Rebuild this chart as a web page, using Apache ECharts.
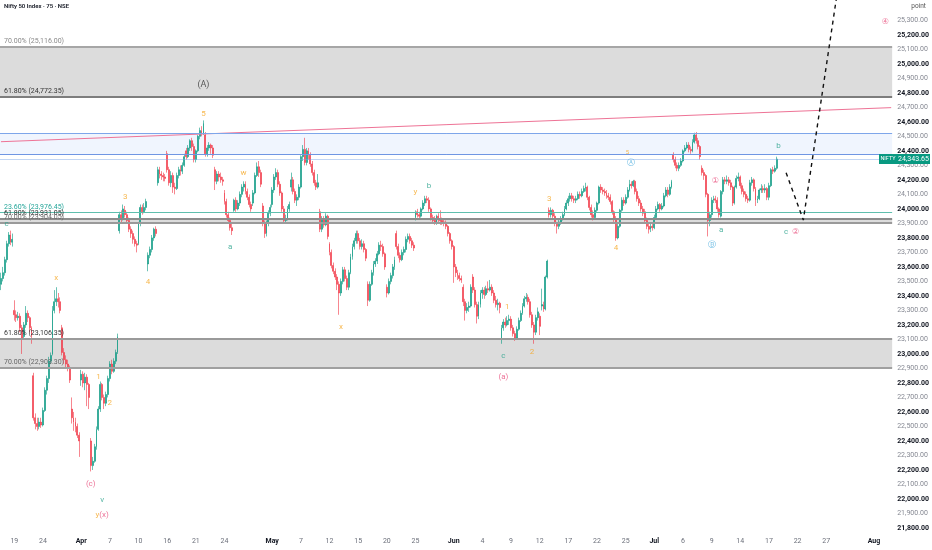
<!DOCTYPE html>
<html><head><meta charset="utf-8">
<script src="https://cdn.jsdelivr.net/npm/echarts@6/dist/echarts.min.js"></script>
<style>html,body{margin:0;padding:0;background:#fff}#c{width:932px;height:550px}</style>
</head><body><div id="c"></div>
<script>
// ---------- DATA ----------
const tradingDays = ['2026-03-17','2026-03-18','2026-03-19','2026-03-20','2026-03-23','2026-03-24','2026-03-25','2026-03-27','2026-03-30',
'2026-04-01','2026-04-02','2026-04-06','2026-04-07','2026-04-08','2026-04-09','2026-04-10','2026-04-13','2026-04-15','2026-04-16','2026-04-17','2026-04-20','2026-04-21','2026-04-22','2026-04-23','2026-04-24','2026-04-27','2026-04-28','2026-04-29','2026-04-30',
'2026-05-04','2026-05-05','2026-05-06','2026-05-07','2026-05-08','2026-05-11','2026-05-12','2026-05-13','2026-05-14','2026-05-15','2026-05-18','2026-05-19','2026-05-20','2026-05-21','2026-05-22','2026-05-25','2026-05-26','2026-05-27','2026-05-29',
'2026-06-01','2026-06-02','2026-06-03','2026-06-04','2026-06-05','2026-06-08','2026-06-09','2026-06-10','2026-06-11','2026-06-12','2026-06-15','2026-06-16','2026-06-17','2026-06-18','2026-06-19','2026-06-22','2026-06-23','2026-06-24','2026-06-25','2026-06-26','2026-06-30',
'2026-07-01','2026-07-02','2026-07-03','2026-07-06','2026-07-07','2026-07-08','2026-07-09','2026-07-10','2026-07-13','2026-07-14','2026-07-15','2026-07-16','2026-07-17','2026-07-20','2026-07-21','2026-07-22','2026-07-23','2026-07-24','2026-07-27','2026-07-28','2026-07-29','2026-07-30','2026-07-31',
'2026-08-03','2026-08-04'];
const sessionTimes = ['09:15','10:30','11:45','13:00','14:15'];
const firstDaySessions = ['13:00','14:15'];
const tickLabels = {'03-19':'19','03-24':'24','04-01':'Apr','04-07':'7','04-10':'10','04-16':'16','04-21':'21','04-24':'24',
'05-04':'May','05-07':'7','05-12':'12','05-15':'15','05-20':'20','05-25':'25','06-01':'Jun','06-04':'4','06-09':'9','06-12':'12',
'06-17':'17','06-22':'22','06-25':'25','07-01':'Jul','07-06':'6','07-09':'9','07-14':'14','07-17':'17','07-22':'22','07-27':'27','08-03':'Aug'};
const monthLabels = ['Apr','May','Jun','Jul','Aug'];

// [open, close, low, high] per 75-minute bar
const ohlc = [
[23480,23520,23440,23560],[23520,23560,23500,23600],
[23560,23650,23540,23670],[23650,23760,23630,23780],[23760,23820,23740,23840],[23820,23770,23750,23850],[23770,23790,23740,23830],
[23300,23270,23230,23370],[23270,23250,23220,23300],[23250,23260,23230,23290],[23260,23180,23150,23280],[23180,23110,23000,23200],
[23120,23200,23100,23220],[23200,23280,23180,23330],[23280,23250,23220,23300],[23250,23180,23150,23260],[23180,23120,23070,23190],
[22850,22560,22540,22870],[22560,22520,22480,22590],[22520,22500,22470,22560],[22500,22530,22480,22560],[22530,22510,22490,22560],
[22510,22610,22500,22630],[22610,22750,22600,22770],[22750,22830,22720,22850],[22830,22950,22800,22980],[22950,22990,22930,23010],
[23000,23300,22990,23330],[23300,23360,23280,23440],[23360,23380,23330,23460],[23380,23360,23320,23420],[23360,23300,23280,23390],
[23180,23010,22990,23200],[23010,22960,22930,23040],[22960,22930,22900,22990],[22930,22900,22880,22960],[22900,22820,22800,22920],
[22620,22560,22520,22700],[22560,22530,22470,22600],[22530,22500,22460,22560],[22500,22440,22420,22520],[22440,22400,22290,22460],
[22820,22860,22780,22890],[22860,22800,22770,22880],[22800,22840,22750,22870],[22840,22790,22640,22860],[22790,22700,22620,22800],
[22400,22230,22190,22420],[22230,22260,22200,22290],[22260,22360,22250,22380],[22360,22480,22340,22500],[22480,22620,22470,22640],
[22620,22790,22600,22810],[22790,22700,22680,22800],[22700,22660,22620,22720],[22660,22720,22640,22740],[22720,22830,22700,22850],
[22830,22930,22810,22950],[22930,22880,22860,22960],[22880,22950,22870,22970],[22950,23010,22930,23030],[23010,23120,23000,23140],
[23850,23960,23830,23980],[23960,23930,23900,23990],[23930,24000,23920,24030],[23990,23960,23940,24020],[23960,23920,23900,23980],
[23920,23860,23840,23940],[23860,23830,23800,23880],[23830,23790,23760,23850],[23790,23760,23740,23810],[23760,23750,23700,23780],
[23760,23900,23750,23910],[23900,24010,23880,24030],[24010,23980,23960,24030],[23980,24010,23970,24040],[24010,24050,23990,24070],
[23620,23680,23570,23700],[23680,23720,23660,23740],[23720,23800,23700,23820],[23800,23860,23780,23870],[23860,23830,23810,23880],
[24180,24270,24160,24290],[24270,24240,24210,24290],[24240,24230,24200,24260],[24230,24220,24190,24250],[24220,24210,24190,24240],
[24380,24270,24250,24400],[24270,24180,24160,24290],[24180,24230,24150,24260],[24230,24150,24110,24250],[24150,24140,24100,24180],
[24140,24230,24130,24250],[24230,24270,24210,24290],[24270,24260,24230,24300],[24260,24300,24240,24320],[24300,24360,24290,24380],
[24400,24360,24340,24420],[24360,24420,24350,24440],[24420,24470,24400,24480],[24470,24430,24400,24490],[24430,24340,24320,24450],
[24340,24400,24320,24410],[24400,24500,24390,24510],[24500,24540,24480,24560],[24540,24520,24500,24570],[24520,24590,24510,24610],
[24510,24380,24360,24530],[24380,24420,24360,24440],[24420,24440,24400,24460],[24440,24420,24380,24450],[24420,24370,24350,24440],
[24270,24190,24130,24290],[24190,24240,24170,24260],[24240,24220,24190,24260],[24220,24200,24180,24250],[24200,24190,24160,24220],
[24110,24050,24030,24130],[24050,23960,23940,24070],[23960,23920,23900,23980],[23920,23870,23850,23940],[23870,23850,23820,23900],
[23990,24060,23980,24070],[24060,24000,23980,24080],[24000,24040,23990,24060],[24040,24100,24020,24120],[24100,24150,24080,24170],
[24150,24170,24120,24190],[24170,24120,24100,24190],[24120,24080,24060,24140],[24080,24030,24010,24100],[24030,24000,23980,24050],
[24040,24110,24020,24130],[24110,24230,24100,24250],[24230,24290,24220,24320],[24290,24250,24220,24330],[24250,24170,24150,24270],
[24020,23900,23880,24040],[23900,23830,23800,23920],[23830,23900,23810,23920],[23900,23970,23880,23990],[23970,24010,23950,24030],
[24030,24130,24010,24150],[24130,24220,24110,24240],[24220,24250,24200,24280],[24250,24170,24150,24270],[24170,24110,24090,24190],
[24110,24000,23980,24120],[24000,23920,23900,24020],[23920,23930,23900,23960],[23930,24000,23920,24020],[24000,24030,23980,24050],
[24150,24200,24120,24250],[24200,24120,24100,24220],[24120,24060,24040,24140],[24060,24080,24020,24100],[24080,24150,24060,24170],
[24150,24360,24140,24370],[24360,24410,24330,24440],[24410,24320,24300,24490],[24320,24400,24300,24420],[24400,24370,24340,24420],
[24370,24310,24290,24390],[24310,24250,24230,24330],[24250,24180,24160,24270],[24180,24150,24130,24200],[24150,24180,24140,24240],
[23980,23860,23840,24000],[23860,23930,23840,23950],[23930,23890,23870,23950],[23890,23950,23880,23970],[23950,23810,23790,23960],
[23760,23700,23680,23770],[23700,23610,23590,23720],[23610,23570,23550,23630],[23570,23530,23510,23590],[23530,23480,23440,23550],
[23480,23420,23270,23500],[23420,23500,23400,23520],[23500,23580,23480,23600],[23580,23520,23500,23600],[23520,23460,23440,23540],
[23460,23560,23440,23580],[23560,23670,23550,23690],[23670,23740,23650,23760],[23740,23780,23720,23800],[23780,23830,23760,23850],
[23830,23780,23760,23850],[23780,23740,23720,23800],[23740,23760,23720,23790],[23760,23720,23700,23780],[23720,23660,23640,23730],
[23480,23370,23330,23500],[23370,23480,23360,23500],[23480,23560,23470,23580],[23560,23620,23540,23640],[23620,23640,23600,23660],
[23640,23690,23620,23710],[23690,23750,23680,23770],[23750,23740,23710,23780],[23740,23690,23670,23760],[23690,23600,23580,23700],
[23460,23420,23390,23480],[23420,23500,23410,23520],[23500,23540,23480,23560],[23540,23600,23520,23620],[23600,23650,23580,23670],
[23830,23740,23720,23850],[23740,23680,23660,23760],[23680,23650,23630,23700],[23650,23700,23640,23720],[23700,23720,23680,23740],
[23720,23790,23700,23810],[23790,23810,23770,23830],[23810,23780,23760,23830],[23780,23750,23730,23800],[23750,23730,23710,23770],
[23940,23980,23920,23990],[23980,23960,23940,24000],[23960,23950,23930,23980],[23950,24000,23940,24010],[24000,24040,23990,24060],
[24040,24070,24020,24090],[24070,24060,24040,24090],[24060,24000,23980,24080],[24000,23940,23920,24010],[23940,23920,23900,23960],
[23920,23910,23890,23950],[23910,23950,23890,23960],[23950,23930,23910,23970],[23930,23920,23890,23990],[23920,23910,23890,23940],
[23910,23900,23880,23930],[23900,23880,23860,23920],[23880,23830,23810,23890],[23830,23780,23760,23840],[23780,23740,23720,23790],
[23740,23600,23490,23750],[23600,23560,23530,23620],[23560,23540,23510,23580],[23540,23520,23500,23560],[23520,23510,23490,23540],
[23460,23360,23330,23480],[23360,23300,23230,23380],[23300,23320,23280,23350],[23320,23330,23290,23360],[23330,23460,23320,23480],
[23530,23440,23420,23550],[23440,23340,23320,23460],[23340,23260,23210,23360],[23260,23340,23240,23360],[23340,23420,23320,23440],
[23420,23440,23380,23460],[23440,23410,23380,23460],[23410,23450,23400,23470],[23450,23440,23420,23500],[23440,23460,23430,23510],
[23460,23420,23400,23480],[23420,23370,23350,23440],[23370,23340,23320,23400],[23340,23350,23300,23380],[23350,23320,23280,23360],
[23110,23180,23070,23200],[23180,23220,23160,23240],[23220,23200,23180,23250],[23200,23230,23190,23260],[23230,23240,23200,23270],
[23240,23180,23160,23260],[23180,23140,23120,23200],[23140,23110,23090,23160],[23110,23170,23100,23190],[23170,23230,23160,23250],
[23230,23280,23220,23300],[23280,23330,23270,23350],[23330,23380,23320,23400],[23380,23390,23360,23420],[23390,23360,23340,23410],
[23360,23270,23250,23380],[23270,23200,23180,23290],[23200,23150,23070,23220],[23150,23250,23130,23270],[23250,23290,23230,23320],
[23260,23190,23130,23280],[23330,23340,23300,23450],[23340,23310,23290,23360],[23310,23530,23300,23540],[23530,23640,23520,23650],
[23990,23960,23940,24010],[23960,23990,23940,24010],[23990,23950,23930,24000],[23950,23900,23880,23970],[23900,23880,23830,23910],
[23880,23910,23860,23930],[23910,23930,23890,23950],[23930,23960,23920,23980],[23960,24000,23950,24020],[24000,24040,23990,24060],
[24040,24070,24020,24090],[24070,24090,24050,24110],[24090,24070,24050,24110],[24070,24060,24040,24090],[24060,24070,24040,24090],
[24070,24100,24060,24120],[24100,24090,24070,24120],[24090,24120,24080,24140],[24120,24140,24110,24160],[24140,24150,24120,24180],
[24150,24080,24060,24160],[24080,24010,23990,24090],[24010,23960,23940,24030],[23960,23940,23920,23990],[23940,23990,23930,24010],
[23990,24040,23980,24050],[24040,24150,24030,24160],[24150,24130,24110,24170],[24130,24120,24100,24150],[24120,24110,24090,24140],
[24110,24090,24070,24130],[24090,24080,24060,24110],[24080,24050,24030,24100],[24050,23980,23960,24060],[23980,23930,23910,23990],
[23930,23800,23780,23950],[23800,23880,23790,23900],[23880,23990,23870,24000],[23990,24060,23980,24080],[24060,24040,24020,24080],
[24040,24080,24030,24100],[24080,24130,24070,24150],[24130,24170,24120,24200],[24170,24160,24140,24190],[24160,24190,24150,24200],
[24190,24120,24100,24200],[24120,24070,24050,24140],[24070,24040,24020,24090],[24040,24000,23980,24060],[24000,23970,23950,24020],
[23980,23920,23900,24000],[23920,23880,23860,23940],[23880,23860,23830,23900],[23860,23880,23840,23900],[23880,23870,23850,23900],
[23870,23940,23860,23960],[23940,24000,23930,24020],[24000,24030,23990,24050],[24030,24000,23980,24040],[24000,24020,23990,24040],
[24020,24090,24010,24110],[24090,24130,24080,24150],[24130,24100,24080,24150],[24100,24150,24090,24170],[24150,24190,24140,24200],
[24370,24340,24320,24390],[24340,24300,24280,24360],[24300,24280,24260,24320],[24280,24300,24260,24320],[24300,24330,24290,24350],
[24330,24400,24320,24410],[24400,24420,24390,24440],[24420,24440,24410,24460],[24440,24410,24390,24460],[24410,24400,24380,24430],
[24400,24460,24390,24480],[24460,24510,24450,24525],[24510,24470,24450,24530],[24470,24430,24410,24490],[24430,24360,24340,24440],
[24280,24250,24230,24300],[24250,24230,24200,24270],[24230,24100,24080,24240],[24100,23920,23810,24110],[23920,23960,23880,23980],
[23960,24060,23940,24080],[24060,24070,24040,24090],[24070,24060,24040,24090],[24060,24000,23980,24080],[24000,23960,23940,24010],
[23950,24120,23940,24130],[24120,24200,24100,24220],[24200,24190,24170,24220],[24190,24200,24170,24230],[24200,24180,24160,24220],
[24180,24150,24130,24200],[24150,24040,24020,24160],[24040,24150,24030,24160],[24150,24210,24140,24230],[24210,24220,24190,24250],
[24220,24160,24140,24230],[24160,24120,24100,24180],[24120,24100,24080,24140],[24100,24070,24050,24120],[24070,24060,24040,24090],
[24060,24180,24050,24200],[24180,24200,24160,24220],[24200,24140,24120,24210],[24140,24060,24020,24150],[24060,24070,24040,24090],
[24070,24130,24060,24140],[24130,24140,24110,24170],[24140,24130,24110,24160],[24130,24140,24110,24170],[24140,24080,24060,24150],
[24080,24160,24060,24180],[24160,24270,24150,24280],[24270,24260,24240,24290],[24260,24280,24250,24300],[24280,24343.65,24270,24360]
];
const lastPrice = 24343.65;

const fibNames = ['70.00% (25,116.00)','61.80% (24,772.35)','23.60% (23,976.45)','61.80% (23,931.05)','70.00% (23,904.05)','61.80% (23,106.35)','70.00% (22,903.30)'];
const fibValues = [25116.00, 24772.35, 23976.45, 23931.05, 23904.05, 23106.35, 22903.30];
const greyZones = [[25116.00, 24772.35],[23931.05, 23904.05],[23106.35, 22903.30]];
const blueZone = [24521, 24378];
const trendIdx = [0, 466];
const trendPrice = [24463, 24698];
const projIdx = [411, 420, 439];
const projPrice = [24249, 23923, 25600];

const waveText  = ['c','x','(c)','v','y(x)','1','2','3','4','5','(A)','a','w','x','y','b','1','c','2','(a)','3','4','5','Ⓐ','①','Ⓑ','a','b','c','②','④'];
const waveIdx   = [3,29,47,53,53,51,57,65,77,106,106,120,127,178,217,224,265,263,278,263,287,322,328,330,374,372,377,407,411,416,463];
const wavePrice = [23896,23523,22103,21993,21890,22841,22662,24082,23496,24654,24854,23737,24247,23186,24116,24158,23324,22986,23013,22841,24068,23730,24392,24316,24192,23751,23854,24434,23841,23841,25288];
const waveGroup = ['teal','orange','pink','teal','mixed','orange','orange','orange','orange','orange','dark','teal','orange','orange','orange','teal','orange','teal','orange','pink','orange','orange','orange','blue','pink','blue','teal','teal','teal','pink','pink'];

// ---------- BUILD ----------
const categories = [];
tradingDays.forEach((d, i) => (i === 0 ? firstDaySessions : sessionTimes).forEach(t => categories.push(d + ' ' + t)));

const FONT = 'Roboto, "DejaVu Sans", "Noto Sans", sans-serif';
const groupColor = {teal:'#2aa38c', orange:'#f5a623', pink:'#e8507e', blue:'#45a9dc', dark:'#333', mixed:'#f5a623'};
const fibColor = ['#8a8a8a','#333','#26a69a','#333','#666','#333','#666'];
const fibLineStyle = [
  {color:'#a6a6a6', width:2}, {color:'#7d7d7d', width:2}, {color:'#5fbfae', width:1},
  {color:'#8c8c8c', width:2}, {color:'#9a9a9a', width:2}, {color:'#9a9a9a', width:2}, {color:'#a0a0a0', width:2}
];

const chart = echarts.init(document.getElementById('c'), null, {renderer:'canvas'});

const fmtNum = v => v.toLocaleString('en-US', {minimumFractionDigits:2, maximumFractionDigits:2});

const markLines = fibValues.map((v, i) => ({
  yAxis: v,
  lineStyle: {color: fibLineStyle[i].color, width: fibLineStyle[i].width, type:'solid'},
  label: {show:true, formatter: fibNames[i], position:'insideStartTop', distance: [4, 2], color: fibColor[i], fontSize: 7, fontFamily: FONT}
}));
markLines.push({yAxis: blueZone[0], lineStyle:{color:'#7ea6ea', width:1, type:'solid'}, label:{show:false}});
markLines.push({yAxis: blueZone[1], lineStyle:{color:'#6f96e3', width:1, type:'solid'}, label:{show:false}});
markLines.push({yAxis: lastPrice, lineStyle:{color:'rgba(120,165,230,0.45)', width:1, type:'solid'}, label:{show:false}});

const markAreas = greyZones.map(z => [{yAxis: z[0], itemStyle:{color:'rgba(120,120,120,0.26)'}}, {yAxis: z[1]}]);
markAreas.push([{yAxis: blueZone[0], itemStyle:{color:'rgba(66,133,244,0.08)'}}, {yAxis: blueZone[1]}]);

const waveData = waveText.map((t, i) => ({
  value: [categories[waveIdx[i]], wavePrice[i]],
  label: {
    formatter: waveGroup[i] === 'mixed' ? '{o|y}{p|(x)}' : t,
    color: groupColor[waveGroup[i]],
    fontSize: t === '(A)' ? 9 : (t === '5' && i === 22 ? 6 : 8)
  }
}));

chart.setOption({
  animation: false,
  backgroundColor: '#ffffff',
  title: {text: 'Nifty 50 Index · 75 · NSE', left: 4, top: 3, padding: 0,
    textStyle: {fontSize: 6, fontWeight: 600, color: '#131722', fontFamily: FONT}},
  grid: {left: 0, right: 35, top: 0, bottom: 7.5, containLabel: false},
  xAxis: {
    type: 'category', data: categories, boundaryGap: true, offset: -8,
    axisLine: {show: false}, axisTick: {show: false}, splitLine: {show: false},
    axisLabel: {
      margin: 3, hideOverlap: false, fontFamily: FONT, fontSize: 7, color: '#6b6f7a',
      interval: (idx, val) => idx === 0 ? false : (val.endsWith('09:15') && tickLabels[val.slice(5, 10)] !== undefined),
      formatter: val => {
        const t = tickLabels[val.slice(5, 10)];
        return monthLabels.includes(t) ? '{m|' + t + '}' : t;
      },
      rich: {m: {fontWeight: 'bold', color: '#131722', fontSize: 7, fontFamily: FONT}}
    }
  },
  yAxis: {
    type: 'value', position: 'right', min: 21700, max: 25440, interval: 100,
    axisLine: {show: false}, axisTick: {show: false}, splitLine: {show: false},
    axisLabel: {
      margin: 5, fontFamily: FONT, fontSize: 7, showMaxLabel: false,
      formatter: v => {
        if (v > 25300 || v < 21800) return '';
        const s = fmtNum(v);
        return (Math.round(v) % 200 === 0) ? '{b|' + s + '}' : '{n|' + s + '}';
      },
      rich: {
        b: {fontWeight: 'bold', color: '#131722', fontSize: 7, fontFamily: FONT},
        n: {color: '#868993', fontSize: 7, fontFamily: FONT}
      }
    }
  },
  series: [
    {
      type: 'candlestick', data: ohlc, barWidth: 1.4, z: 3,
      itemStyle: {color: '#089981', color0: '#f23645', borderColor: '#089981', borderColor0: '#f23645', borderWidth: 0.6},
      markArea: {silent: true, data: markAreas},
      markLine: {silent: true, symbol: ['none', 'none'], animation: false, data: markLines}
    },
    {
      type: 'line', z: 4, symbol: 'none', silent: true,
      data: trendIdx.map((ix, i) => [categories[ix], trendPrice[i]]),
      lineStyle: {color: '#ee7396', width: 1}
    },
    {
      type: 'line', z: 5, symbol: 'none', silent: true,
      data: projIdx.map((ix, i) => [categories[ix], projPrice[i]]),
      lineStyle: {color: '#111', width: 1.4, type: [4, 4]}
    },
    {
      type: 'scatter', z: 6, symbolSize: 0, silent: true, data: waveData,
      label: {show: true, position: 'inside', fontFamily: FONT,
        rich: {o: {color: '#f5a623', fontSize: 8, fontFamily: FONT}, p: {color: '#e8507e', fontSize: 8, fontFamily: FONT}}}
    }
  ]
});

// last-price tag on the price scale
const py = chart.convertToPixel({yAxisIndex: 0}, lastPrice);
const plotRight = chart.getWidth() - 35;
chart.setOption({
  graphic: [
    {type: 'text', right: 6, top: 3, style: {text: 'point', fontSize: 6.5, fill: '#555', fontFamily: FONT}},
    {type: 'rect', shape: {x: plotRight - 18, y: py - 5, width: 18, height: 10}, style: {fill: '#089981'}, z: 100},
    {type: 'text', x: plotRight - 9, y: py, style: {text: 'NIFTY', fontSize: 5.5, fill: '#fff', align: 'center', verticalAlign: 'middle', fontFamily: FONT}, z: 101},
    {type: 'rect', shape: {x: plotRight, y: py - 5, width: 33, height: 10}, style: {fill: '#089981'}, z: 100},
    {type: 'text', x: plotRight + 16.5, y: py, style: {text: fmtNum(lastPrice), fontSize: 7, fill: '#fff', align: 'center', verticalAlign: 'middle', fontFamily: FONT}, z: 101}
  ]
});
</script>
</body></html>
